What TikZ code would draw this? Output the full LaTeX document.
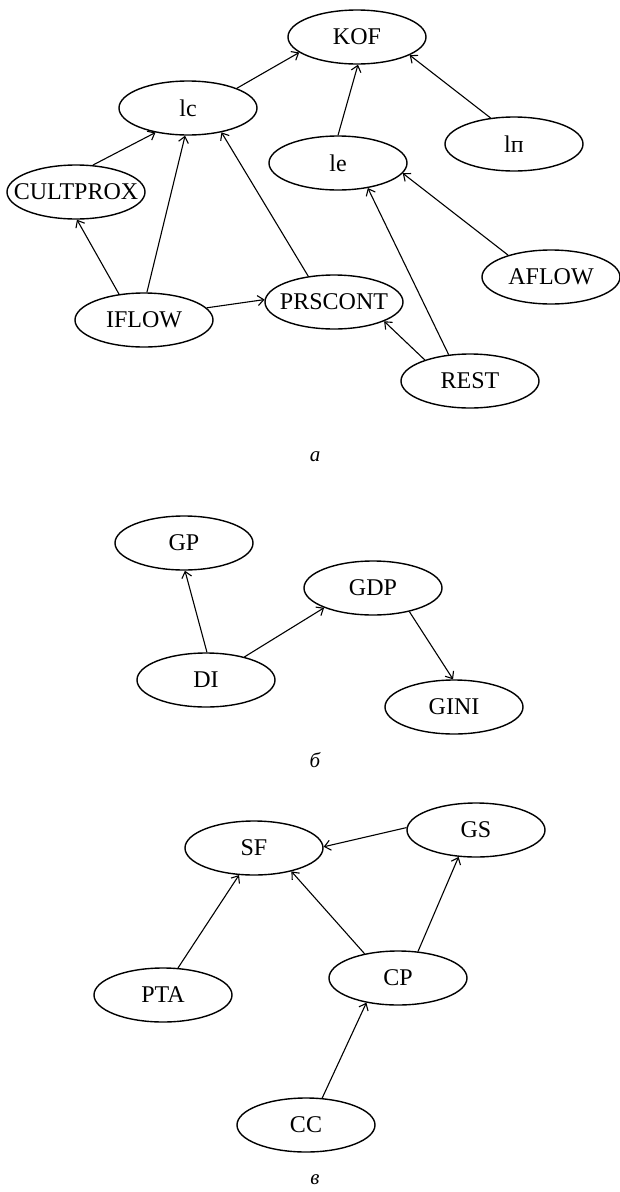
\documentclass[tikz,border=0pt]{standalone}
\usepackage{fontspec}
\setmainfont{Liberation Serif}
\usetikzlibrary{shapes.geometric,arrows.meta}
\tikzset{
  var/.style={ellipse, draw, line width=1.4pt, minimum width=138pt, minimum height=54pt,
    inner sep=0pt, font=\fontsize{24}{28}\selectfont},
  link/.style={draw, line width=1.1pt, -{Straight Barb[length=6pt,width=10pt,line width=1.1pt]}},
  caption/.style={font=\fontsize{21}{25}\selectfont\itshape}
}
\newcommand{\nm}[1]{\makebox[0pt]{#1}}
\begin{document}
\begin{tikzpicture}[x=1pt,y=-1pt]
\useasboundingbox (0,0) rectangle (620,1192);

% (а)
\node[var] (kof) at (357,37) {\nm{KOF}};
\node[var] (lc) at (188,108) {\nm{lc}};
\node[var] (ln) at (514,144) {\nm{lп}};
\node[var] (le) at (338,163) {\nm{le}};
\node[var] (cult) at (76,192) {\nm{CULTPROX}};
\node[var] (aflow) at (551,277) {\nm{AFLOW}};
\node[var] (prs) at (334,302) {\nm{PRSCONT}};
\node[var] (iflow) at (144,320) {\nm{IFLOW}};
\node[var] (rest) at (470,381) {\nm{REST}};
\node[caption] (capa) at (315,457) {а};

\draw[link] (lc.22) -- (kof.195);
\draw[link] (le.90) -- (kof.272);
\draw[link] (ln.132) -- (kof.341);
\draw[link] (cult.58) -- (lc.217);
\draw[link] (iflow.134) -- (cult.272);
\draw[link] (iflow.84) -- (lc.264);
\draw[link] (prs.135) -- (lc.324);
\draw[link] (iflow.11) -- (prs.178);
\draw[link] (rest.155) -- (prs.339);
\draw[link] (rest.129) -- (le.320);
\draw[link] (aflow.153) -- (le.351);

% (б)
\node[var] (gp) at (184,543) {\nm{GP}};
\node[var] (gdp) at (373,588) {\nm{GDP}};
\node[var] (di) at (206,680) {\nm{DI}};
\node[var] (gini) at (454,707) {\nm{GINI}};
\node[caption] (capb) at (315,760) {б};

\draw[link] (di.88) -- (gp.272);
\draw[link] (di.31) -- (gdp.202);
\draw[link] (gdp.327) -- (gini.92);

% (в)
\node[var] (sf) at (254,848) {\nm{SF}};
\node[var] (gs) at (476,830) {\nm{GS}};
\node[var] (pta) at (163,995) {\nm{PTA}};
\node[var] (cp) at (398,978) {\nm{CP}};
\node[var] (cc) at (306,1125) {\nm{CC}};
\node[caption] (capc) at (315,1180) {в};

\draw[link] (gs.178) -- (sf.1);
\draw[link] (pta.61) -- (sf.241);
\draw[link] (cp.144) -- (sf.328);
\draw[link] (cp.53) -- (gs.237);
\draw[link] (cc.59) -- (cp.218);
\end{tikzpicture}
\end{document}
